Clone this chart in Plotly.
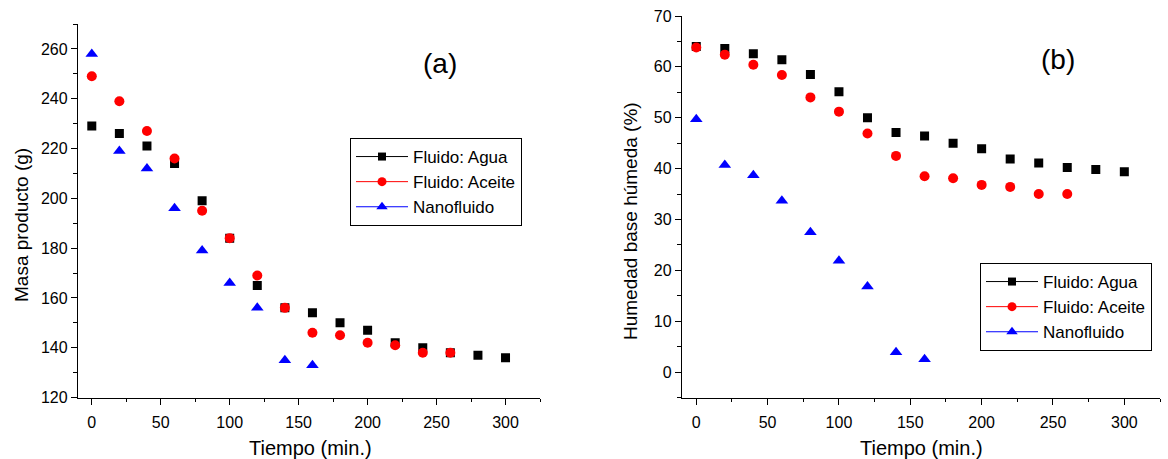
import plotly.graph_objects as go

# ---- data ----
t_agua = [0, 20, 40, 60, 80, 100, 120, 140, 160, 180, 200, 220, 240, 260, 280, 300]
t_aceite = [0, 20, 40, 60, 80, 100, 120, 140, 160, 180, 200, 220, 240, 260]
t_nano = [0, 20, 40, 60, 80, 100, 120, 140, 160]

masa_agua = [229, 226, 221, 214, 199, 184, 165, 156, 154, 150, 147, 142, 140, 138, 137, 136]
masa_aceite = [249, 239, 227, 216, 195, 184, 169, 156, 146, 145, 142, 141, 138, 138]
masa_nano = [258, 219, 212, 196, 179, 166, 156, 135, 133]

hum_agua = [64.0, 63.6, 62.6, 61.4, 58.5, 55.1, 50.0, 47.1, 46.4, 45.0, 43.9, 41.9, 41.1, 40.2, 39.8, 39.4]
hum_aceite = [63.8, 62.4, 60.4, 58.4, 54.0, 51.2, 46.9, 42.5, 38.5, 38.1, 36.8, 36.4, 35.0, 35.0]
hum_nano = [49.7, 40.7, 38.7, 33.7, 27.5, 21.9, 16.8, 3.9, 2.5]

names = ["Fluido: Agua", "Fluido: Aceite", "Nanofluido"]
colors = ["#000000", "#ff0000", "#0000ff"]
symbols = ["square", "circle", "triangle-up"]
sizes = [9, 10, 11]

W, H = 1168, 459
FONT = "Liberation Sans, Arial, sans-serif"

fig = go.Figure()

panels = [
    ("x", "y", "legend", [t_agua, t_aceite, t_nano], [masa_agua, masa_aceite, masa_nano]),
    ("x2", "y2", "legend2", [t_agua, t_aceite, t_nano], [hum_agua, hum_aceite, hum_nano]),
]
for xa, ya, leg, xs, ys in panels:
    for i in range(3):
        fig.add_trace(go.Scatter(
            x=xs[i], y=ys[i], mode="markers", xaxis=xa, yaxis=ya,
            marker=dict(color=colors[i], symbol=symbols[i], size=sizes[i], line=dict(width=0)),
            showlegend=False, hoverinfo="x+y"))
    for i in range(3):
        fig.add_trace(go.Scatter(
            x=[None], y=[None], mode="lines+markers", xaxis=xa, yaxis=ya,
            name=names[i], legend=leg,
            line=dict(color=colors[i], width=1),
            marker=dict(color=colors[i], symbol=symbols[i], size=sizes[i] - 1, line=dict(width=0)),
            showlegend=True))


def px_x(v):
    return v / W


def px_y(v):
    return 1 - v / H


axis_common = dict(
    showline=True, linecolor="black", linewidth=1.3, mirror=False,
    ticks="outside", ticklen=6, tickwidth=1.2, tickcolor="black",
    showgrid=False, zeroline=False, automargin=False,
    tickfont=dict(family=FONT, size=16, color="black"),
)

legend_common = dict(
    xanchor="left", yanchor="top",
    bgcolor="white", bordercolor="black", borderwidth=1,
    font=dict(family=FONT, size=17, color="black"),
    tracegroupgap=0, itemwidth=52,
)

fig.update_layout(
    width=W, height=H,
    margin=dict(l=0, r=0, t=0, b=0, pad=0, autoexpand=False),
    paper_bgcolor="white", plot_bgcolor="white",
    font=dict(family=FONT, color="black"),
    xaxis=dict(domain=[px_x(78), px_x(540)], range=[-10, 325], anchor="y",
               dtick=50, tick0=0, ticklabelstandoff=4,
               minor=dict(ticks="outside", ticklen=3.5, dtick=25, tickcolor="black"),
               **axis_common),
    yaxis=dict(domain=[px_y(397.5), px_y(24)], range=[120, 270], anchor="x",
               dtick=20, tick0=0,
               minor=dict(ticks="outside", ticklen=3.5, dtick=10, tickcolor="black"),
               **axis_common),
    xaxis2=dict(domain=[px_x(682), px_x(1160)], range=[-10, 325], anchor="y2",
                dtick=50, tick0=0, ticklabelstandoff=4,
                minor=dict(ticks="outside", ticklen=3.5, dtick=25, tickcolor="black"),
                **axis_common),
    yaxis2=dict(domain=[px_y(397.5), px_y(16)], range=[-5, 70], anchor="x2",
                dtick=10, tick0=0,
                minor=dict(ticks="outside", ticklen=3.5, dtick=5, tickcolor="black"),
                **axis_common),
    legend=dict(x=px_x(350), y=px_y(138), **legend_common),
    legend2=dict(x=px_x(980), y=px_y(263), **legend_common),
    showlegend=True,
)

ann_font = dict(family=FONT, size=19, color="black")
annotations = [
    dict(text="(a)", x=px_x(440), y=px_y(64), font=dict(family=FONT, size=28, color="black")),
    dict(text="(b)", x=px_x(1058), y=px_y(59), font=dict(family=FONT, size=28, color="black")),
    dict(text="Tiempo (min.)", x=px_x(310), y=px_y(448), font=dict(family=FONT, size=20, color="black")),
    dict(text="Tiempo (min.)", x=px_x(921), y=px_y(448), font=dict(family=FONT, size=20, color="black")),
    dict(text="Masa producto (g)", x=px_x(21), y=px_y(225), font=ann_font, textangle=-90),
    dict(text="Humedad base húmeda (%)", x=px_x(631), y=px_y(221), font=ann_font, textangle=-90),
]
for a in annotations:
    a.update(xref="paper", yref="paper", showarrow=False, xanchor="center", yanchor="middle")
fig.update_layout(annotations=annotations)

fig.write_html("out.html")
